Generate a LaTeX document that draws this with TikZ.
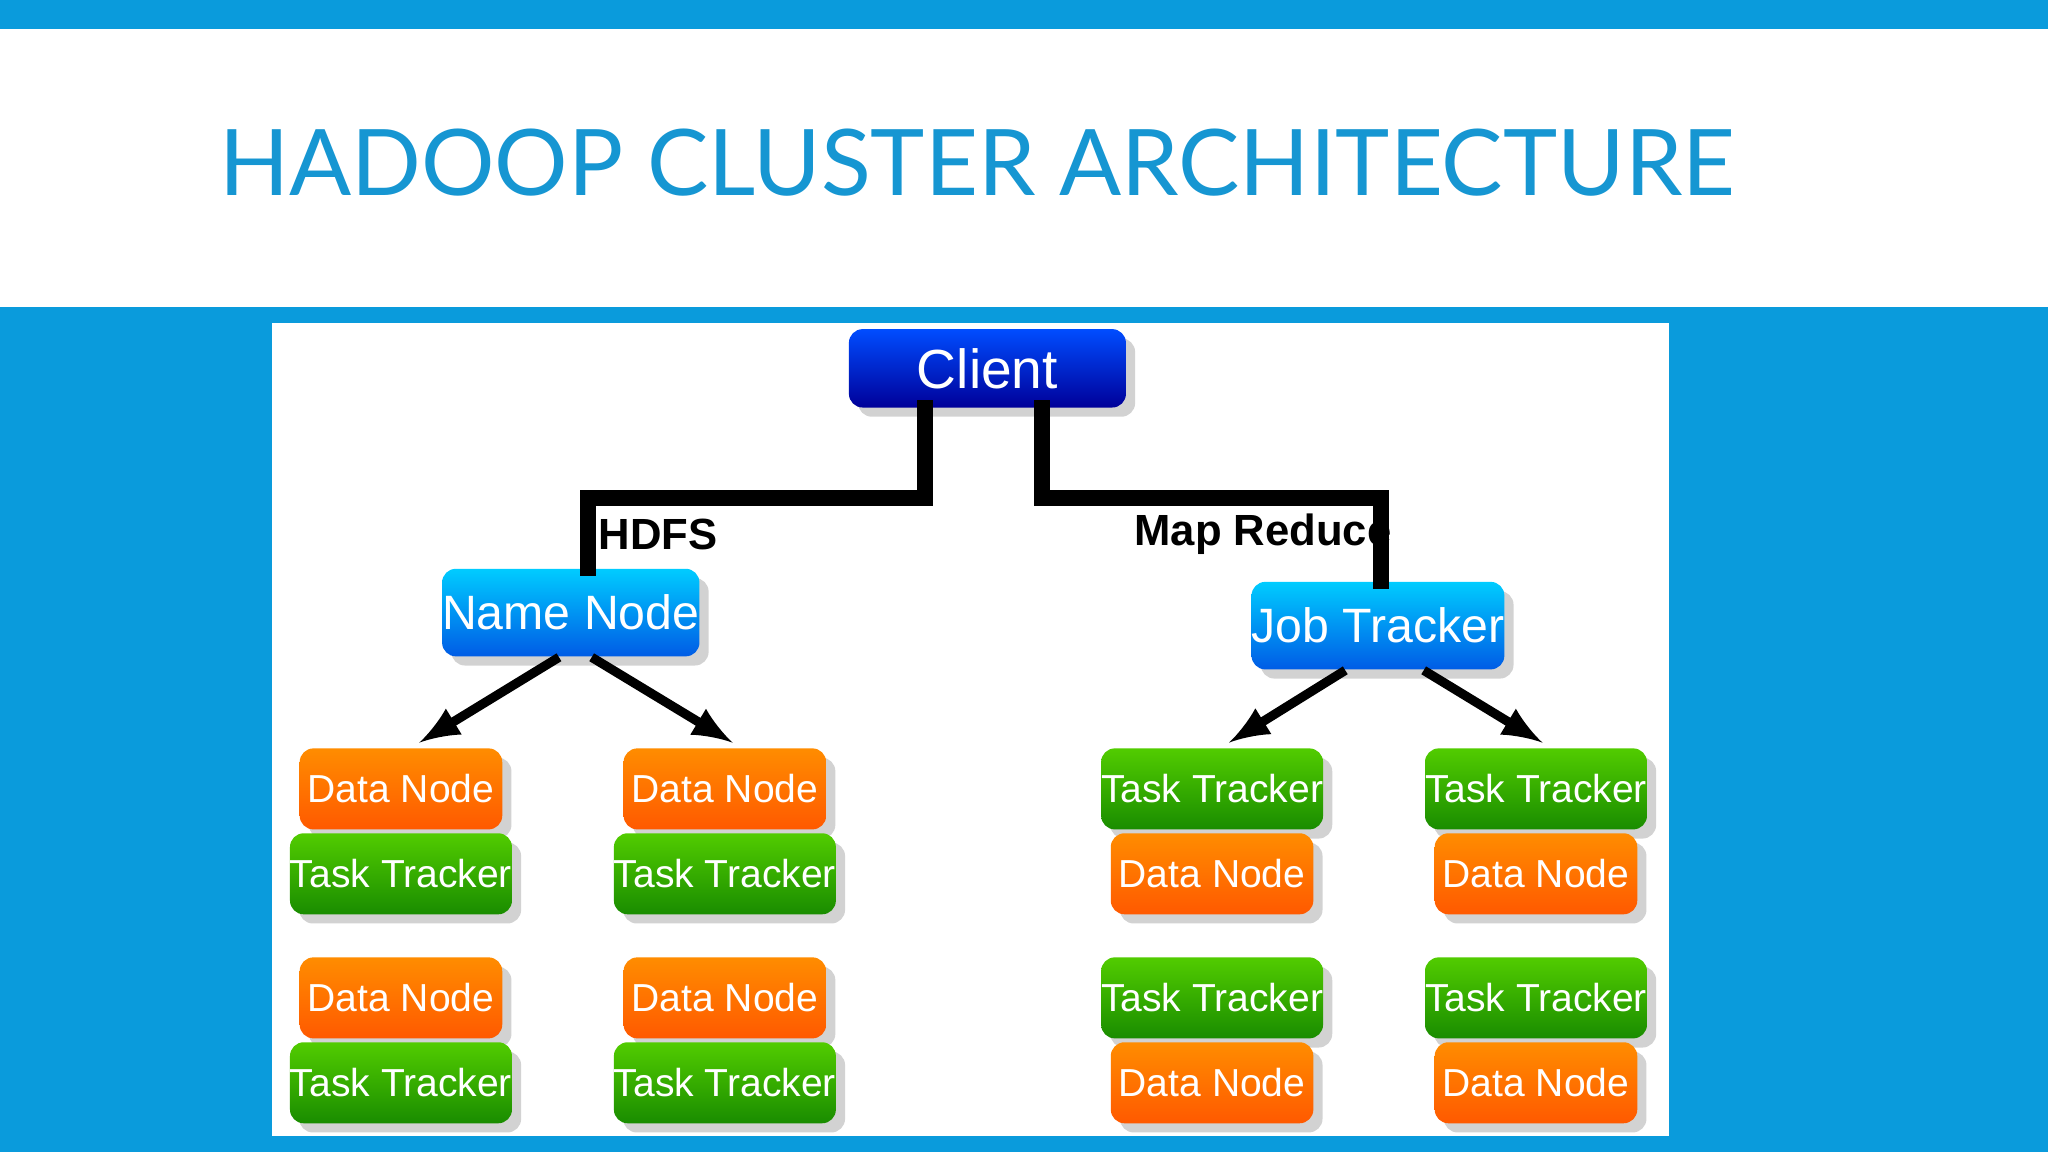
\documentclass[tikz,border=0pt]{standalone}
\usepackage{fontspec}
\setmainfont{Liberation Sans}
\newfontfamily\titlefont{Lato}
\usetikzlibrary{positioning,shadows}
\definecolor{slideblue}{HTML}{0A9BDC}
\definecolor{titleblue}{HTML}{1696D2}

\tikzstyle{box} = [rectangle, rounded corners=3pt, text=white, minimum width=1.55cm, minimum height=0.62cm, inner sep=0pt, font=\fontsize{8.5}{10}\selectfont, drop shadow={opacity=0.35, shadow xshift=2pt, shadow yshift=-2pt}]
\tikzstyle{orange box} = [box, top color=orange!90!yellow, bottom color=orange!70!red]
\tikzstyle{green box} = [box, top color=green!60!yellow!80!black, bottom color=green!50!black!90!yellow]
\tikzstyle{master} = [box, top color=cyan!80!blue, bottom color=blue!60!cyan!90!black, minimum width=1.9cm, minimum height=0.67cm, font=\fontsize{10.5}{12}\selectfont]
\tikzstyle{line} = [draw, line width=0.35em, line cap=rect]
\tikzstyle{arrow} = [draw, -latex, line width=0.2em, shorten >=2pt]

\begin{document}
\begin{tikzpicture}[x=0.01cm, y=-0.01cm]
    \useasboundingbox (0,0) rectangle (1568,882);

    % BACKGROUND
        \fill[slideblue] (0,0) rectangle (1568,882);
        \fill[white] (0,22) rectangle (1568,235);
        \fill[white] (208,247) rectangle (1278,870);
        \node[anchor=base west, text=titleblue, inner sep=0pt, font=\titlefont\fontsize{20}{24}\selectfont]
            (title) at (167,150) {HADOOP CLUSTER ARCHITECTURE};

    % CLIENT
        \node [master, top color=blue!70!cyan, bottom color=blue!60!black, minimum width=2.12cm, minimum height=0.6cm, font=\fontsize{12}{14}\selectfont]
            (client) at (756,282) {Client};

    % MASTERS
        \node [master] (namenode) at (437,469) {Name Node};
        \node [master] (jobtracker) at (1055,479) {Job Tracker};

    % LINE client -> masters
        \path[line] ([xshift=-0.48cm]client.south) |- (450,381) -- (namenode.north -| 450,0);
        \path[line] ([xshift=0.42cm]client.south) |- (1057,381) -- (jobtracker.north -| 1057,0);
        \node[font=\bfseries\fontsize{9.5}{11}\selectfont] (hdfs) at (504,409) {HDFS};
        \node[font=\bfseries\fontsize{9.5}{11}\selectfont] (mapreduce) at (967,409) {Map Reduce};

    % HDFS SLAVES
        \foreach \x/\n in {307/a,555/b}{
            \node [orange box] (dn1\n) at (\x,604) {Data Node};
            \node [green box]  (tt1\n) at (\x,669) {Task Tracker};
            \node [orange box] (dn2\n) at (\x,764) {Data Node};
            \node [green box]  (tt2\n) at (\x,829) {Task Tracker};
        }
    % MAP REDUCE SLAVES
        \foreach \x/\n in {928/c,1176/d}{
            \node [green box]  (tt1\n) at (\x,604) {Task Tracker};
            \node [orange box] (dn1\n) at (\x,669) {Data Node};
            \node [green box]  (tt2\n) at (\x,764) {Task Tracker};
            \node [orange box] (dn2\n) at (\x,829) {Data Node};
        }

    % ARROWS masters -> slaves
        \path[arrow] ([xshift=-0.09cm]namenode.south) -- ([xshift=0.08cm]dn1a.north);
        \path[arrow] ([xshift=0.16cm]namenode.south) -- ([xshift=0.12cm]dn1b.north);
        \path[arrow] ([xshift=-0.25cm]jobtracker.south) -- ([xshift=0.07cm]tt1c.north);
        \path[arrow] ([xshift=0.35cm]jobtracker.south) -- ([xshift=0.11cm]tt1d.north);
\end{tikzpicture}
\end{document}
